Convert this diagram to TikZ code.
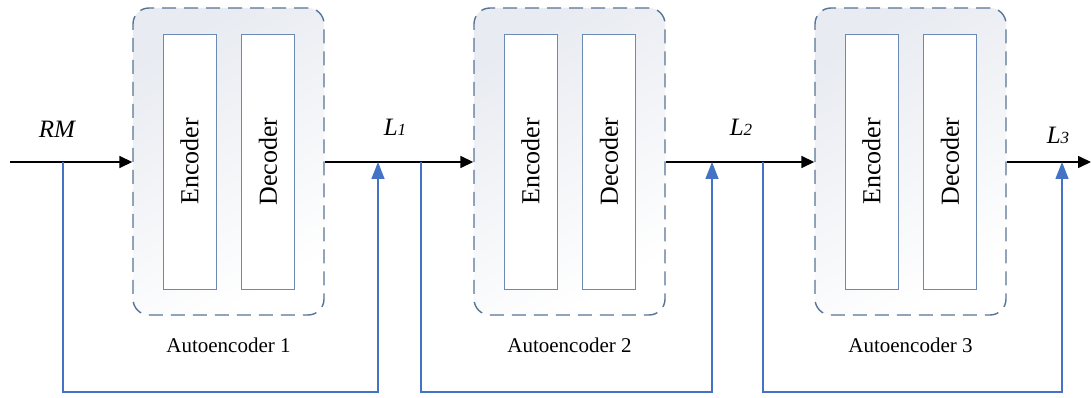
\documentclass[tikz,border=0pt]{standalone}
\usepackage{fontspec}
\setmainfont{Liberation Serif}
\usetikzlibrary{arrows.meta, positioning}

\definecolor{aeframe}{RGB}{88,116,148}
\definecolor{aeshade}{RGB}{232,235,241}
\definecolor{blockline}{RGB}{106,138,180}
\definecolor{fbblue}{RGB}{68,114,196}

\begin{document}
\begin{tikzpicture}[x=1pt, y=-1pt,
    aebox/.style={draw=aeframe, line width=1.4pt, dash pattern=on 14pt off 8pt,
        rounded corners=16pt, minimum width=191pt, minimum height=307pt,
        top color=aeshade, bottom color=white, shading angle=30},
    block/.style={draw=blockline, fill=white, line width=0.9pt, rotate=90,
        minimum width=255pt, minimum height=53pt, inner sep=0pt,
        font=\fontsize{26}{30}\selectfont},
    aelabel/.style={inner sep=0pt, font=\fontsize{21}{25}\selectfont},
    sig/.style={inner sep=0pt, font=\fontsize{25}{30}\selectfont\itshape},
    mainline/.style={line width=1.6pt, -{Triangle[length=13pt, width=12pt]}},
    fbline/.style={draw=fbblue, line width=1.5pt, -{Triangle[length=17pt, width=13pt]}}]

  \useasboundingbox (0,0) rectangle (1091,398);

  % autoencoder blocks
  \foreach \i in {1,2,3} {
    \node[aebox] (ae\i) at ({228.5+341*(\i-1)},161.5) {};
    \node[block] (enc\i) at ([xshift=-39pt]ae\i.center) {Encoder};
    \node[block] (dec\i) at ([xshift=39.5pt]ae\i.center) {Decoder};
    \node[aelabel, below=22pt of ae\i] (lbl\i) {Autoencoder \i};
  }

  % signal points
  \coordinate (in) at (10,162);
  \coordinate (out) at (1091,162);
  \coordinate (tap1) at (63,162);
  \coordinate (join1) at (378,162);
  \coordinate (tap2) at (421,162);
  \coordinate (join2) at (712,162);
  \coordinate (tap3) at (763,162);
  \coordinate (join3) at (1062,162);

  \node[sig] (rm) at (57,129) {RM};
  \node[sig] (l1) at (395,127) {L{\fontsize{17}{20}\selectfont 1}};
  \node[sig] (l2) at (741,127) {L{\fontsize{17}{20}\selectfont 2}};
  \node[sig] (l3) at (1058,135) {L{\fontsize{17}{20}\selectfont 3}};

  % forward path
  \draw[mainline] (in) -- (ae1.west |- in);
  \draw[mainline] (ae1.east |- in) -- (ae2.west |- in);
  \draw[mainline] (ae2.east |- in) -- (ae3.west |- in);
  \draw[mainline] (ae3.east |- in) -- (out);

  % feedback paths
  \foreach \i in {1,2,3} {
    \draw[fbline] (tap\i) -- ++(0,230) -| (join\i);
  }
\end{tikzpicture}
\end{document}
